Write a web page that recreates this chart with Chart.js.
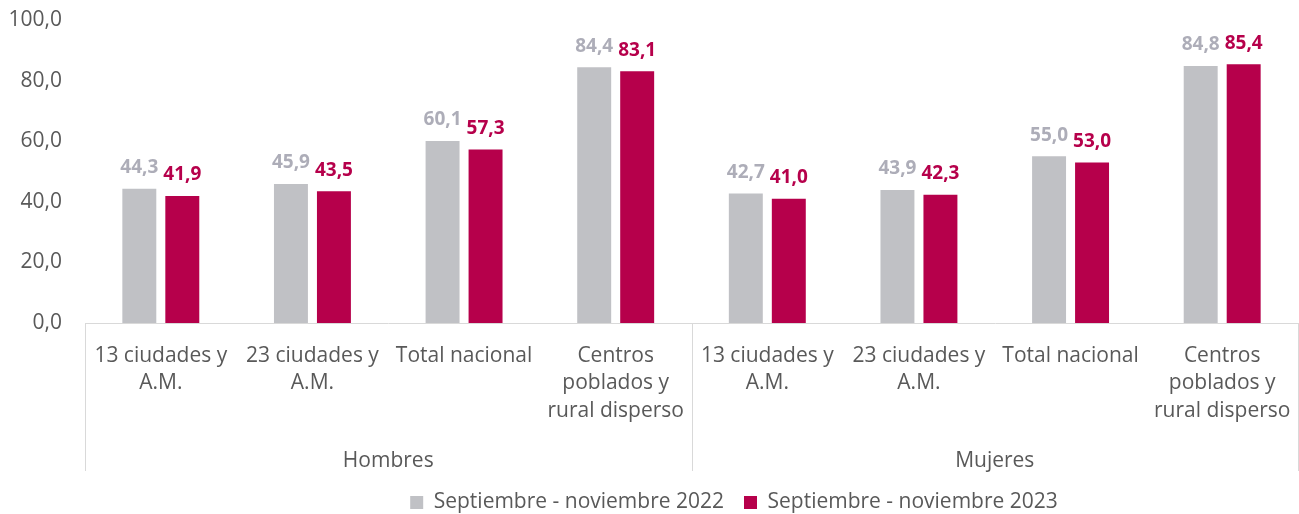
<!DOCTYPE html>
<html>
<head>
<meta charset="utf-8">
<script src="https://cdn.jsdelivr.net/npm/chart.js@4.4.1/dist/chart.umd.min.js"></script>
<style>
  html, body { margin: 0; padding: 0; background: #fff; }
  #wrap { width: 1299px; height: 514px; position: relative; }
</style>
</head>
<body>
<div id="wrap"><canvas id="chart"></canvas></div>
<script>
// Data
const categories = [
    ['13 ciudades y', 'A.M.'],
    ['23 ciudades y', 'A.M.'],
    ['Total nacional'],
    ['Centros', 'poblados y', 'rural disperso'],
    ['13 ciudades y', 'A.M.'],
    ['23 ciudades y', 'A.M.'],
    ['Total nacional'],
    ['Centros', 'poblados y', 'rural disperso']
];
const groups = ['Hombres', 'Mujeres'];
const groupSize = 4;
const seriesNames = ['Septiembre - noviembre 2022', 'Septiembre - noviembre 2023'];
const values2022 = [44.3, 45.9, 60.1, 84.4, 42.7, 43.9, 55.0, 84.8];
const values2023 = [41.9, 43.5, 57.3, 83.1, 41.0, 42.3, 53.0, 85.4];
const yTicks = [0, 20, 40, 60, 80, 100];

const FONT = "'Open Sans', 'Noto Sans', sans-serif";
const TEXT = '#595959';
const LINE = '#d9d9d9';
const barColors = ['#c0c1c5', '#b6004b'];
const labelColors = ['#adadb8', '#b6004b'];

function fmt(v) {
    return v.toFixed(1).replace('.', ',');
}

// value labels above each bar
const valueLabels = {
    id: 'valueLabels',
    afterDatasetsDraw(chart) {
        const ctx = chart.ctx;
        ctx.save();
        ctx.font = 'bold 19px ' + FONT;
        ctx.textAlign = 'center';
        ctx.textBaseline = 'middle';
        chart.data.datasets.forEach((ds, i) => {
            const meta = chart.getDatasetMeta(i);
            ctx.fillStyle = labelColors[i];
            meta.data.forEach((bar, j) => {
                ctx.fillText(fmt(ds.data[j]), bar.x, bar.y - 21);
            });
        });
        ctx.restore();
    }
};

// group row under the categories, with separator lines
const groupAxis = {
    id: 'groupAxis',
    afterLayout(chart) {
        // legend sits a little right of centre in the original
        chart.legend.left += 85;
        chart.legend.right += 85;
    },
    afterDraw(chart) {
        const ctx = chart.ctx;
        const x = chart.scales.x;
        const top = chart.chartArea.bottom;
        const bottom = top + 148;
        const step = x.getPixelForValue(1) - x.getPixelForValue(0);
        ctx.save();
        ctx.strokeStyle = LINE;
        ctx.lineWidth = 1;
        for (let g = 0; g <= groups.length; g++) {
            let px = x.getPixelForValue(g * groupSize) - step / 2;
            px = Math.min(Math.round(px), chart.width - 1) + 0.5;
            ctx.beginPath();
            ctx.moveTo(px, top);
            ctx.lineTo(px, bottom);
            ctx.stroke();
        }
        ctx.font = '21px ' + FONT;
        ctx.fillStyle = TEXT;
        ctx.textAlign = 'center';
        ctx.textBaseline = 'middle';
        groups.forEach((name, g) => {
            const a = x.getPixelForValue(g * groupSize) - step / 2;
            const b = x.getPixelForValue((g + 1) * groupSize - 1) + step / 2;
            ctx.fillText(name, (a + b) / 2, top + 138);
        });
        ctx.restore();
    }
};

new Chart(document.getElementById('chart'), {
    type: 'bar',
    data: {
        labels: categories,
        datasets: [
            { label: seriesNames[0], data: values2022, backgroundColor: barColors[0] },
            { label: seriesNames[1], data: values2023, backgroundColor: barColors[1] }
        ]
    },
    options: {
        responsive: true,
        maintainAspectRatio: false,
        animation: false,
        categoryPercentage: 0.567,
        barPercentage: 0.79,
        layout: { padding: { top: 20, right: 1, left: 0, bottom: -9 } },
        plugins: {
            tooltip: { enabled: false },
            legend: {
                position: 'bottom',
                labels: {
                    boxWidth: 13,
                    boxHeight: 13,
                    padding: 20,
                    color: TEXT,
                    font: { family: FONT, size: 21 }
                }
            }
        },
        scales: {
            x: {
                grid: { display: false, drawTicks: false },
                border: { display: true, color: LINE },
                ticks: {
                    color: TEXT,
                    padding: 19,
                    maxRotation: 0,
                    autoSkip: false,
                    font: { family: FONT, size: 21, lineHeight: 1.31 }
                },
                afterFit(scale) {
                    scale.height = 149;
                    scale.paddingLeft = 0;
                    scale.paddingRight = 0;
                }
            },
            y: {
                min: 0,
                max: 100,
                afterBuildTicks(scale) {
                    scale.ticks = yTicks.map(v => ({ value: v }));
                },
                grid: { display: false, drawTicks: false },
                border: { display: false },
                ticks: {
                    color: TEXT,
                    padding: 23,
                    font: { family: FONT, size: 21 },
                    callback: v => fmt(v)
                },
                afterFit(scale) {
                    scale.width = 85;
                    scale.paddingTop = 0;
                    scale.paddingBottom = 0;
                }
            }
        }
    },
    plugins: [valueLabels, groupAxis]
});
</script>
</body>
</html>
